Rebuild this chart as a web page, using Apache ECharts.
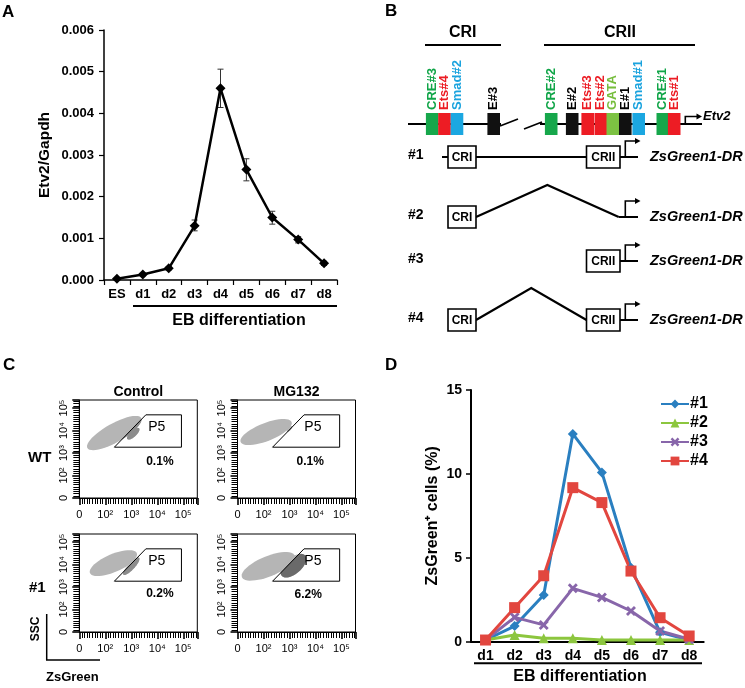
<!DOCTYPE html>
<html><head><meta charset="utf-8">
<script src="https://cdn.jsdelivr.net/npm/echarts@6/dist/echarts.min.js"></script>
<style>html,body{margin:0;padding:0;background:#fff}#c{width:745px;height:688px}</style>
</head><body><div id="c"></div>
<script>
// ---------- Panel A data ----------
const aCategories = ['ES','d1','d2','d3','d4','d5','d6','d7','d8'];
const aValues   = [0.00003,0.00013,0.00028,0.0013,0.0046,0.00265,0.0015,0.00097,0.0004];
const aErrLow   = [0.00001,0.00010,0.00024,0.00118,0.00414,0.00238,0.00134,0.00089,0.00035];
const aErrHigh  = [0.00005,0.00016,0.00032,0.00144,0.00506,0.00291,0.00165,0.00104,0.00045];

// ---------- Panel D data ----------
const dCategories = ['d1','d2','d3','d4','d5','d6','d7','d8'];
const dNames = ['#1','#2','#3','#4'];
const dSeries1 = [0.1,0.93,2.78,12.38,10.09,4.41,0.56,0.1];
const dSeries2 = [0.1,0.4,0.2,0.2,0.1,0.1,0.1,0.1];
const dSeries3 = [0.1,1.45,1.0,3.18,2.64,1.83,0.64,0.15];
const dSeries4 = [0.1,2.03,3.93,9.18,8.29,4.21,1.43,0.34];

// ---------- Panel C data (axis units: decades) ----------
const cPlots = ['WT Control','WT MG132','#1 Control','#1 MG132'];
const cTickLabels = ['0','10²','10³','10⁴','10⁵'];
const cTickValues = [0,1,2,3,4];
const cMinorTicks = [0.301,0.477,0.602,0.699,0.778,0.845,0.903,0.954];
const cMainCloud = [[0.31,2.22,2.38,3.56,0.42],[0.12,2.49,2.08,3.38,0.40],[0.41,2.62,2.21,3.51,0.40],[0.17,2.44,2.20,3.40,0.45]];
const cPosCloud  = [[1.85,2.62,2.30,3.10,0.14],[1.90,2.95,2.10,3.20,0.06],[1.70,2.55,2.30,3.30,0.15],[1.70,2.50,2.60,3.40,0.36]];
const cGate = [[1.35,2.26],[2.56,3.7],[3.93,3.7],[3.93,2.26]];
const cPercent = ['0.1%','0.1%','0.2%','6.2%'];
const cPercentPos = [[3.1,1.61],[2.8,1.61],[3.1,1.72],[2.72,1.64]];
const cGateLabelPos = [[2.98,3.15],[2.9,3.15],[2.98,3.17],[2.9,3.17]];

// ---------- Panel B schematic data ----------
const bMotifLabels = ['CRE#3','Ets#4','Smad#2','E#3','CRE#2','E#2','Ets#3','Ets#2','GATA','E#1','Smad#1','CRE#1','Ets#1'];
const bMotifPos = [60.2,72.5,85,121.7,179.2,200.2,215.7,228.8,240.8,253.3,266.7,290.8,302.2];
const bConstructs = ['#1','#2','#3','#4'];
const bHasCRI  = [true,true,false,true];
const bHasCRII = [true,false,true,true];
const bLinker  = ['straight','arch','none','arch'];

// ---------- styles ----------
const FONT = '"Liberation Sans", Arial, Helvetica, sans-serif';
const motifFill = {CRE:'#16a74b', Ets:'#ed1c24', Smad:'#1ba7e1', E:'#111111', GATA:'#7cc242'};
const motifText = {CRE:'#10a548', Ets:'#ec1c24', Smad:'#1aa3de', E:'#000000', GATA:'#76bd3c'};
const dColors = ['#2a7fc0','#8cc63e','#8866aa','#e2463f'];
const dSymbols = ['diamond','triangle','path://M2,0 L5,3 L8,0 L10,2 L7,5 L10,8 L8,10 L5,7 L2,10 L0,8 L3,5 L0,2 Z','rect'];
const dSymbolSizes = [10,10,10,11];
const cDarkColors = ['#8c8c8c','#9a9a9a','#8c8c8c','#6a6a6a'];
const FLOW_XMAX = 4.54, FLOW_YMAX = 4.36;

const motifType = l => l.startsWith('CRE') ? 'CRE' : l.startsWith('Ets') ? 'Ets' : l.startsWith('Smad') ? 'Smad' : l.startsWith('GATA') ? 'GATA' : 'E';

// tick positions for flow axes (decade + minor offsets)
const flowTicks = [];
cTickValues.forEach(d => {
  flowTicks.push(d);
  cMinorTicks.forEach(m => { if (d + m < 4.35) flowTicks.push(d + m); });
});

function ellipsePts(p1, p2, b) {
  const cx = (p1[0]+p2[0])/2, cy = (p1[1]+p2[1])/2;
  const a = Math.hypot(p2[0]-p1[0], p2[1]-p1[1])/2;
  const ang = Math.atan2(p2[1]-p1[1], p2[0]-p1[0]);
  const pts = [];
  for (let i = 0; i < 48; i++) {
    const t = i/48*Math.PI*2;
    const lx = a*Math.cos(t), ly = b*Math.sin(t);
    pts.push([cx + lx*Math.cos(ang) - ly*Math.sin(ang), cy + lx*Math.sin(ang) + ly*Math.cos(ang)]);
  }
  return pts;
}
function clipPoly(subject, clip) {
  let area = 0;
  for (let i = 0; i < clip.length; i++) { const p = clip[i], q = clip[(i+1)%clip.length]; area += p[0]*q[1]-q[0]*p[1]; }
  const s = area > 0 ? 1 : -1;
  let out = subject;
  for (let i = 0; i < clip.length && out.length; i++) {
    const a = clip[i], b = clip[(i+1)%clip.length];
    const inside = p => s*((b[0]-a[0])*(p[1]-a[1]) - (b[1]-a[1])*(p[0]-a[0])) >= 0;
    const inter = (p, q) => {
      const den = (p[0]-q[0])*(a[1]-b[1]) - (p[1]-q[1])*(a[0]-b[0]);
      const t = ((p[0]-a[0])*(a[1]-b[1]) - (p[1]-a[1])*(a[0]-b[0]))/den;
      return [p[0]+t*(q[0]-p[0]), p[1]+t*(q[1]-p[1])];
    };
    const inp = out; out = [];
    for (let j = 0; j < inp.length; j++) {
      const cur = inp[j], prev = inp[(j+inp.length-1)%inp.length];
      if (inside(cur)) { if (!inside(prev)) out.push(inter(prev, cur)); out.push(cur); }
      else if (inside(prev)) out.push(inter(prev, cur));
    }
  }
  return out;
}

const chart = echarts.init(document.getElementById('c'), null, {width:745, height:688});

const flowGrids = [
  {left:79.3, top:400, width:118, height:98},
  {left:237.5, top:400, width:118, height:98},
  {left:79.3, top:534, width:118, height:98},
  {left:237.5, top:534, width:118, height:98}
];

const grids = [
  {left:104, top:30, width:233, height:250},
  {left:471, top:390, width:232.7, height:251.7},
  ...flowGrids.map(g => Object.assign({show:true, borderColor:'#000', borderWidth:1, backgroundColor:'transparent'}, g)),
  {left:372, top:0, width:373, height:340}
];

const xAxes = [
  {gridIndex:0, type:'category', data:aCategories, boundaryGap:true,
   axisLine:{lineStyle:{color:'#000', width:1.5}}, axisTick:{show:true, length:5, alignWithLabel:false, lineStyle:{color:'#000', width:1.2}},
   axisLabel:{color:'#000', fontWeight:'bold', fontSize:13, fontFamily:FONT, margin:8}},
  {gridIndex:1, type:'category', data:dCategories, boundaryGap:true,
   axisLine:{lineStyle:{color:'#000', width:2}}, axisTick:{show:false},
   axisLabel:{color:'#000', fontWeight:'bold', fontSize:14, fontFamily:FONT, margin:7}}
];
const yAxes = [
  {gridIndex:0, type:'value', min:0, max:0.006, interval:0.001, splitLine:{show:false},
   axisLine:{show:true, lineStyle:{color:'#000', width:1.5}}, axisTick:{show:true, length:5, lineStyle:{color:'#000', width:1.2}},
   axisLabel:{color:'#000', fontWeight:'bold', fontSize:13, fontFamily:FONT, margin:10, formatter:v => v.toFixed(3)},
   name:'Etv2/Gapdh', nameLocation:'middle', nameGap:51, nameTextStyle:{color:'#000', fontWeight:'bold', fontSize:15.5, fontFamily:FONT}},
  {gridIndex:1, type:'value', min:0, max:15, interval:5, splitLine:{show:false},
   axisLine:{show:true, lineStyle:{color:'#000', width:2}}, axisTick:{show:true, length:5, lineStyle:{color:'#000', width:1.5}},
   axisLabel:{color:'#000', fontWeight:'bold', fontSize:14, fontFamily:FONT, margin:9},
   name:'ZsGreen⁺ cells (%)', nameLocation:'middle', nameGap:30, nameTextStyle:{color:'#000', fontWeight:'bold', fontSize:16, fontFamily:FONT}}
];
for (let i = 0; i < 4; i++) {
  xAxes.push({gridIndex:2+i, type:'value', min:0, max:FLOW_XMAX, interval:1, splitLine:{show:false},
    axisLine:{show:true, lineStyle:{color:'#000', width:1}},
    axisTick:{show:true, length:7, lineStyle:{color:'#000', width:1.6}},
    minorTick:{show:true, splitNumber:10, length:6, lineStyle:{color:'#000', width:1}},
    axisLabel:{color:'#000', fontSize:11, fontFamily:FONT, margin:11, formatter:v => cTickLabels[Math.round(v)] || ''}});
  yAxes.push({gridIndex:2+i, type:'value', min:0, max:FLOW_YMAX, interval:1, splitLine:{show:false},
    axisLine:{show:true, lineStyle:{color:'#000', width:1}},
    axisTick:{show:true, length:7, lineStyle:{color:'#000', width:1.6}},
    minorTick:{show:true, splitNumber:10, length:6, lineStyle:{color:'#000', width:1}},
    axisLabel:{color:'#000', fontSize:11, fontFamily:FONT, margin:10, rotate:90, formatter:v => cTickLabels[Math.round(v)] || ''}});
}
xAxes.push({gridIndex:6, type:'value', min:0, max:373, show:false});
yAxes.push({gridIndex:6, type:'value', min:0, max:340, inverse:true, show:false});

const series = [];
// Panel A error bars
series.push({type:'custom', xAxisIndex:0, yAxisIndex:0, z:3, silent:true,
  data: aCategories.map((c, i) => [i, aErrLow[i], aErrHigh[i]]),
  encode:{x:0, y:[1,2]},
  renderItem(params, api) {
    const lo = api.coord([api.value(0), api.value(1)]);
    const hi = api.coord([api.value(0), api.value(2)]);
    const w = 3;
    const st = {stroke:'#333', lineWidth:1};
    return {type:'group', children:[
      {type:'line', shape:{x1:lo[0], y1:lo[1], x2:hi[0], y2:hi[1]}, style:st},
      {type:'line', shape:{x1:lo[0]-w, y1:lo[1], x2:lo[0]+w, y2:lo[1]}, style:st},
      {type:'line', shape:{x1:hi[0]-w, y1:hi[1], x2:hi[0]+w, y2:hi[1]}, style:st}
    ]};
  }});
series.push({type:'line', xAxisIndex:0, yAxisIndex:0, z:4, data:aValues, symbol:'diamond', symbolSize:10,
  itemStyle:{color:'#000'}, lineStyle:{color:'#000', width:2.5}});

// Panel D
[dSeries1, dSeries2, dSeries3, dSeries4].forEach((vals, i) => {
  series.push({type:'line', name:dNames[i], xAxisIndex:1, yAxisIndex:1, data:vals,
    symbol:dSymbols[i], symbolSize:dSymbolSizes[i], itemStyle:{color:dColors[i]}, lineStyle:{color:dColors[i], width:3}});
});

// Panel C flow plots
for (let i = 0; i < 4; i++) {
  series.push({type:'custom', xAxisIndex:2+i, yAxisIndex:2+i, silent:true, data:[[0,0]],
    renderItem(params, api) {
      const P = v => api.coord(v);
      const unitY = api.size([0, 1])[1];
      const gate = cGate.map(P);
      const children = [];
      [cMainCloud[i], cPosCloud[i]].forEach(cl => {
        const pts = ellipsePts(P([cl[0], cl[1]]), P([cl[2], cl[3]]), cl[4]*unitY);
        children.push({type:'polygon', shape:{points:pts}, style:{fill:'#b5b5b5'}});
      });
      [cMainCloud[i], cPosCloud[i]].forEach(cl => {
        const pts = clipPoly(ellipsePts(P([cl[0], cl[1]]), P([cl[2], cl[3]]), cl[4]*unitY), gate);
        if (pts.length > 2) children.push({type:'polygon', shape:{points:pts}, style:{fill:cDarkColors[i]}});
      });
      children.push({type:'polygon', shape:{points:gate}, style:{fill:null, stroke:'#000', lineWidth:1}});
      const gl = P(cGateLabelPos[i]);
      children.push({type:'text', x:gl[0], y:gl[1], style:{text:'P5', fontSize:14, fontFamily:FONT, fill:'#000', align:'center', verticalAlign:'middle'}});
      const pl = P(cPercentPos[i]);
      children.push({type:'text', x:pl[0], y:pl[1], style:{text:cPercent[i], fontSize:12, fontWeight:'bold', fontFamily:FONT, fill:'#000', align:'center', verticalAlign:'middle'}});
      return {type:'group', children};
    }});
}

// Panel B schematic
series.push({type:'custom', xAxisIndex:6, yAxisIndex:6, silent:true, data:[[0,0]],
  renderItem(params, api) {
    const P = (x, y) => api.coord([x, y]);
    const ch = [];
    const line = (pts, w) => ch.push({type:'polyline', shape:{points:pts.map(p => P(p[0], p[1]))}, style:{stroke:'#000', lineWidth:w || 2, fill:null}});
    const text = (t, x, y, o) => { const p = P(x, y); ch.push({type:'text', x:p[0], y:p[1], rotation:(o && o.rot) || 0,
      style:Object.assign({text:t, fontFamily:FONT, fontWeight:'bold', fontSize:14, fill:'#000', align:'left', verticalAlign:'middle'}, o && o.st)}); };
    const arrowHead = (x, y) => ch.push({type:'polygon', shape:{points:[P(x-5.5, y-3), P(x, y), P(x-5.5, y+3)]}, style:{fill:'#000'}});
    text('CRI', 90.7, 33, {st:{fontSize:16, align:'center'}});
    text('CRII', 248, 33, {st:{fontSize:16, align:'center'}});
    line([[53,45],[129,45]], 2);
    line([[172,45],[323,45]], 2);
    line([[36,124],[129,124]], 2);
    line([[128,126],[146,119]], 1.6);
    line([[152,129],[170,122]], 1.6);
    line([[168,124],[330,124]], 2);
    bMotifLabels.forEach((lab, k) => {
      const t = motifType(lab);
      const tl = P(bMotifPos[k]-6.3, 113), br = P(bMotifPos[k]+6.3, 135);
      ch.push({type:'rect', shape:{x:tl[0], y:tl[1], width:br[0]-tl[0], height:br[1]-tl[1]}, style:{fill:motifFill[t]}});
      text(lab, bMotifPos[k], 110, {rot:Math.PI/2, st:{fontSize:13, fill:motifText[t], align:'left', verticalAlign:'middle'}});
    });
    line([[313.3,124],[313.3,116.5],[326,116.5]], 1.6);
    arrowHead(330, 116.5);
    text('Etv2', 331, 116.5, {st:{fontSize:13, fontStyle:'italic'}});
    const rows = [157, 217, 261, 320];
    bConstructs.forEach((name, i) => {
      const y = rows[i];
      text(name, 36, y-2, {st:{fontSize:14}});
      const endX = bHasCRII[i] ? 214.5 : 246.7;
      if (bLinker[i] === 'straight') { line([[70,y],[76,y]], 2); line([[104,y],[endX,y]], 2); }
      if (bLinker[i] === 'arch') line([[104,y],[(104+endX)/2,y-32],[endX,y]], 2.2);
      const box = (x1, x2, lab) => {
        const a = P(x1, y-11), b = P(x2, y+11);
        ch.push({type:'rect', shape:{x:a[0], y:a[1], width:b[0]-a[0], height:b[1]-a[1]}, style:{fill:'#fff', stroke:'#000', lineWidth:1.6}});
        text(lab, (x1+x2)/2, y+0.5, {st:{fontSize:12, align:'center'}});
      };
      if (bHasCRI[i]) box(76, 104, 'CRI');
      if (bHasCRII[i]) box(214.5, 248, 'CRII');
      line([[bHasCRII[i] ? 248 : 246.7, y],[266, y]], 2);
      line([[253.3, y],[253.3, y-16],[264, y-16]], 1.6);
      arrowHead(268.5, y-16);
      text('ZsGreen1-DR', 278, y, {st:{fontSize:14.5, fontStyle:'italic'}});
    });
    return {type:'group', children:ch};
  }});

const T = (text, x, y, o) => Object.assign({type:'text', x, y, style:Object.assign({text, fontFamily:FONT, fontWeight:'bold', fontSize:14, fill:'#000', align:'left', verticalAlign:'middle'}, o || {})});
const L = (x1, y1, x2, y2, w) => ({type:'line', shape:{x1, y1, x2, y2}, style:{stroke:'#000', lineWidth:w || 2}});

const graphic = [
  T('A', 2, 12, {fontSize:17}), T('B', 385, 11, {fontSize:17}), T('C', 3, 365, {fontSize:17}), T('D', 385, 365, {fontSize:17}),
  T('EB differentiation', 239, 321, {fontSize:16, align:'center'}), L(133, 306, 337, 306, 2),
  T('EB differentiation', 580, 677, {fontSize:16, align:'center'}), L(474, 663.3, 702, 663.3, 2),
  T('Control', 138.3, 391.7, {fontSize:14, align:'center'}), T('MG132', 296.5, 391.7, {fontSize:14, align:'center'}),
  T('WT', 28, 458, {fontSize:15}), T('#1', 29, 588, {fontSize:15}),
  Object.assign(T('SSC', 36, 629, {fontSize:12, align:'center'}), {rotation:Math.PI/2}),
  L(46.7, 614, 46.7, 660, 1.5), L(46, 660, 100, 660, 1.5),
  T('ZsGreen', 46, 677, {fontSize:13})
];

chart.setOption({
  animation:false,
  backgroundColor:'#fff',
  textStyle:{fontFamily:FONT},
  grid:grids, xAxis:xAxes, yAxis:yAxes, series,
  legend:{data:dNames, orient:'vertical', left:655, top:391, itemWidth:28, itemHeight:11, itemGap:3,
    textStyle:{color:'#000', fontWeight:'bold', fontSize:16, fontFamily:FONT, padding:[0,0,0,-4]}},
  graphic
});
</script></body></html>
